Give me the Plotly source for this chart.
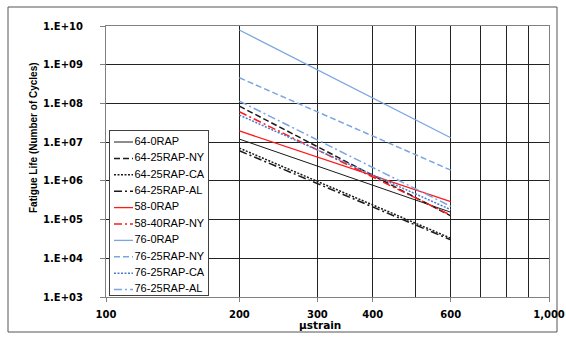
import plotly.graph_objects as go

strain = [200, 600]

names = ["64-0RAP", "64-25RAP-NY", "64-25RAP-CA", "64-25RAP-AL", "58-0RAP",
         "58-40RAP-NY", "76-0RAP", "76-25RAP-NY", "76-25RAP-CA", "76-25RAP-AL"]
life_64_0 = [1.2e7, 1.55e5]
life_64_25_ny = [8.5e7, 1.25e5]
life_64_25_ca = [7.0e6, 3.3e4]
life_64_25_al = [6.0e6, 3.0e4]
life_58_0 = [1.95e7, 2.9e5]
life_58_40_ny = [6.1e7, 1.3e5]
life_76_0 = [7.9e9, 1.3e7]
life_76_25_ny = [4.6e8, 1.9e6]
life_76_25_ca = [5.0e7, 1.8e5]
life_76_25_al = [1.15e8, 2.2e5]
values = [life_64_0, life_64_25_ny, life_64_25_ca, life_64_25_al, life_58_0,
          life_58_40_ny, life_76_0, life_76_25_ny, life_76_25_ca, life_76_25_al]

x_tickvals = [100, 200, 300, 400, 600, 1000]
x_ticktext = ["100", "200", "300", "400", "600", "1,000"]
x_minor = [500, 700, 800, 900]
y_tickvals = [1e3, 1e4, 1e5, 1e6, 1e7, 1e8, 1e9, 1e10]
y_ticktext = ["1.E+03", "1.E+04", "1.E+05", "1.E+06", "1.E+07", "1.E+08", "1.E+09", "1.E+10"]

BLACK = "#1a1a1a"
RED = "#ff1a1a"
BLUE = "#7aa6e0"
BLUE2 = "#4a7bd0"
styles = [
    (BLACK, "solid", 1.0),
    (BLACK, "6px,3px", 1.5),
    (BLACK, "2px,1.5px", 1.5),
    (BLACK, "8px,3px,2px,3px", 1.5),
    (RED, "solid", 1.3),
    (RED, "8px,3px,2px,3px", 1.5),
    (BLUE, "solid", 1.3),
    (BLUE, "6px,3px", 1.5),
    (BLUE2, "2px,1.5px", 1.5),
    (BLUE, "8px,3px,2px,3px", 1.5),
]

W, H = 566, 339
ML, MR, MT, MB = 106, 17, 26, 42
PW, PH = W - ML - MR, H - MT - MB


def px_x(px):
    return (px - ML) / PW


def px_y(py):
    return (H - MB - py) / PH


TICKFONT = "DejaVu Sans, Verdana, sans-serif"
FONT = "Liberation Sans, Arial, sans-serif"

fig = go.Figure()
for name, vals, (c, d, w) in zip(names, values, styles):
    fig.add_trace(go.Scatter(x=strain, y=vals, mode="lines", name=name,
                             line=dict(color=c, dash=d, width=w),
                             xaxis="x", yaxis="y", showlegend=False))

# ---- custom legend (drawn in its own small axes) ----
LB_L, LB_R, LB_T, LB_B = 110, 208, 131, 295
lw, lh = LB_R - LB_L, LB_B - LB_T
fig.add_trace(go.Scatter(x=[0, lw, lw, 0, 0], y=[0, 0, lh, lh, 0], mode="lines",
                         fill="toself", fillcolor="white", line=dict(width=0),
                         xaxis="x2", yaxis="y2", showlegend=False, hoverinfo="skip"))
first_py, step = 142, 16.4
for i, (name, (c, d, w)) in enumerate(zip(names, styles)):
    yc = LB_B - (first_py + step * i)
    fig.add_trace(go.Scatter(x=[4, 23], y=[yc, yc], mode="lines",
                             line=dict(color=c, dash=d, width=w),
                             xaxis="x2", yaxis="y2", showlegend=False, hoverinfo="skip"))
    fig.add_trace(go.Scatter(x=[24.5], y=[yc], mode="text", text=[name],
                             textposition="middle right",
                             textfont=dict(family=FONT, size=11, color="black"),
                             xaxis="x2", yaxis="y2", showlegend=False, hoverinfo="skip",
                             cliponaxis=False))

fig.update_layout(
    width=W, height=H,
    margin=dict(l=ML, r=MR, t=MT, b=MB, autoexpand=False),
    paper_bgcolor="white", plot_bgcolor="white",
    font=dict(family=FONT, color="black"),
    showlegend=False,
    xaxis=dict(type="log", range=[2, 3], tickvals=x_tickvals, ticktext=x_ticktext,
               domain=[0, 1], anchor="y", automargin=False,
               showgrid=True, gridcolor="#222", gridwidth=1,
               minor=dict(tickvals=x_minor, showgrid=True, gridcolor="#222", gridwidth=1, ticks=""),
               showline=True, linecolor="#808080", linewidth=1, mirror=True,
               ticks="outside", ticklen=4, tickcolor="#808080", ticklabelstandoff=4,
               tickfont=dict(size=10, family=TICKFONT, weight="bold"), zeroline=False),
    yaxis=dict(type="log", range=[3, 10], tickvals=y_tickvals, ticktext=y_ticktext,
               domain=[0, 1], anchor="x", automargin=False,
               showgrid=True, gridcolor="#222", gridwidth=1,
               showline=True, linecolor="#808080", linewidth=1, mirror=True,
               ticks="outside", ticklen=5, tickcolor="#808080", ticklabelstandoff=15,
               tickfont=dict(size=10, family=TICKFONT, weight="bold"), zeroline=False),
    xaxis2=dict(domain=[px_x(LB_L), px_x(LB_R)], range=[0, lw], anchor="y2",
                showgrid=False, zeroline=False, showticklabels=False, ticks="",
                showline=True, linecolor="#404040", linewidth=1, mirror=True,
                fixedrange=True, automargin=False),
    yaxis2=dict(domain=[px_y(LB_B), px_y(LB_T)], range=[0, lh], anchor="x2",
                showgrid=False, zeroline=False, showticklabels=False, ticks="",
                showline=True, linecolor="#404040", linewidth=1, mirror=True,
                fixedrange=True, automargin=False),
    annotations=[
        dict(text="Fatigue Life (Number of Cycles)", textangle=-90, xref="paper", yref="paper",
             x=px_x(33), y=px_y(138), showarrow=False, xanchor="center", yanchor="middle",
             font=dict(size=10, family=FONT, weight="bold")),
        dict(text="µstrain", xref="paper", yref="paper", x=px_x(320), y=px_y(325),
             showarrow=False, xanchor="center", yanchor="middle",
             font=dict(size=10.5, family=TICKFONT, weight="bold")),
    ],
    shapes=[dict(type="rect", xref="paper", yref="paper",
                 x0=px_x(8), x1=px_x(557), y0=px_y(332), y1=px_y(7),
                 line=dict(color="#555", width=1), fillcolor="rgba(0,0,0,0)", layer="below")],
)

fig.write_html("out.html", config={"displayModeBar": False},
               post_script="document.body.style.margin='0';document.body.style.overflow='hidden';")
